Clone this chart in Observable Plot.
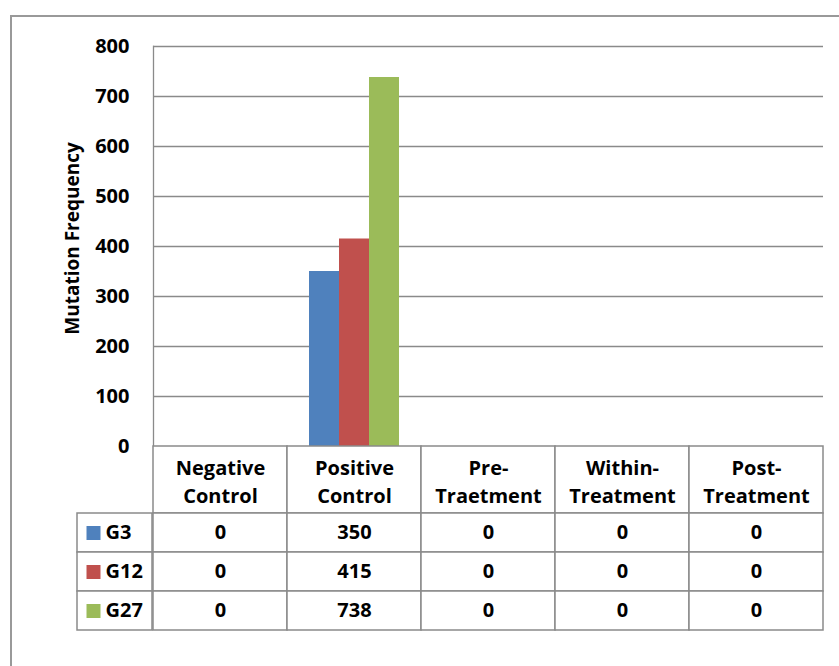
<!DOCTYPE html>
<html><head><meta charset="utf-8">
<script src="https://cdn.jsdelivr.net/npm/d3@7"></script>
<script src="https://cdn.jsdelivr.net/npm/@observablehq/plot@0.6"></script>
<style>
body{margin:0;background:#fff;overflow:hidden;}
#root{position:relative;width:839px;height:666px;overflow:hidden;background:#fff;font-family:"Open Sans",sans-serif;}
#border{position:absolute;left:10px;top:15px;width:900px;height:700px;border-top:2px solid #999;border-left:2px solid #999;}
#root svg{position:absolute;left:0;}
</style></head><body><div id="root"><div id="border"></div></div>
<script>
const categories = ["Negative Control", "Positive Control", "Pre-Traetment", "Within-Treatment", "Post-Treatment"];
const series = ["G3", "G12", "G27"];
const g3 = [0, 350, 0, 0, 0];
const g12 = [0, 415, 0, 0, 0];
const g27 = [0, 738, 0, 0, 0];
const yTicks = [0, 100, 200, 300, 400, 500, 600, 700, 800];
const yLabel = "Mutation Frequency";
const colors = ["#4F81BD", "#C0504D", "#9BBB59"];

const values = [g3, g12, g27];
const data = series.flatMap((s, j) => values[j].map((v, i) => ({category: categories[i], series: s, value: v})));

const font = {fontFamily: '"Open Sans", sans-serif', fontSize: "20px", fontWeight: "bold", background: "transparent", overflow: "visible", color: "#000"};
const lineColor = "#8a8a8a";

const chart = Plot.plot({
  width: 839, height: 460, marginTop: 46, marginBottom: 14, marginLeft: 152, marginRight: 16,
  style: font,
  fx: {domain: categories, padding: 0, axis: null},
  x: {domain: series, paddingInner: 0, paddingOuter: 22 / 30, axis: null},
  y: {domain: [0, 800], axis: null},
  color: {domain: series, range: colors},
  marks: [
    Plot.ruleY(yTicks.filter(t => t > 0), {stroke: lineColor, strokeWidth: 1.3}),
    Plot.barY(data, {fx: "category", x: "series", y: "value", fill: "series"}),
    Plot.axisY({ticks: yTicks, tickSize: 0, tickPadding: 24, fontSize: 20, fontWeight: "bold", label: null}),
    Plot.frame({anchor: "left", stroke: lineColor, strokeWidth: 1.3, fx: [categories[0]]}),
    Plot.text([yLabel], {fx: [categories[0]], frameAnchor: "left", textAnchor: "middle", dx: -81, dy: -8, rotate: -90, fontSize: 19, fontWeight: "bold", fill: "#000"})
  ]
});
chart.style.top = "0px";

const wrap = d => d.replace(" ", "\n").replace("-", "-\n");
const header = Plot.plot({
  width: 839, height: 80, marginTop: 6, marginBottom: 7, marginLeft: 152, marginRight: 16,
  style: font,
  x: {domain: categories, padding: 0, axis: null},
  marks: [
    Plot.cell(categories, {x: d => d, fill: "white", stroke: lineColor, strokeWidth: 1.5}),
    Plot.text(categories, {x: d => d, frameAnchor: "middle", text: wrap, lineHeight: 1.4, fontSize: 20, fontWeight: "bold", fill: "#000"})
  ]
});
header.style.top = "440px";

const rows = Plot.plot({
  width: 839, height: 130, marginTop: 6, marginBottom: 7, marginLeft: 152, marginRight: 16,
  style: font,
  x: {domain: categories, padding: 0, axis: null},
  y: {domain: series, padding: 0, axis: null},
  marks: [
    Plot.cell(data, {x: "category", y: "series", fill: "white", stroke: lineColor, strokeWidth: 1.5}),
    Plot.text(data, {x: "category", y: "series", text: d => String(d.value), fontSize: 20, fontWeight: "bold", fill: "#000"})
  ]
});
rows.style.top = "507px";

const legend = Plot.plot({
  width: 160, height: 130, marginTop: 6, marginBottom: 7, marginLeft: 77, marginRight: 8,
  style: font,
  y: {domain: series, padding: 0, axis: null},
  color: {domain: series, range: colors},
  marks: [
    Plot.cell(series, {y: d => d, fill: "white", stroke: lineColor, strokeWidth: 1.5}),
    Plot.dot(series, {y: d => d, frameAnchor: "left", dx: 16, symbol: "square", r: 7.9, fill: d => d, stroke: "none"}),
    Plot.text(series, {y: d => d, frameAnchor: "left", dx: 28, textAnchor: "start", fontSize: 20, fontWeight: "bold", fill: "#000"})
  ]
});
legend.style.top = "507px";

const root = document.getElementById("root");
root.append(chart, header, rows, legend);
</script>
</body></html>
